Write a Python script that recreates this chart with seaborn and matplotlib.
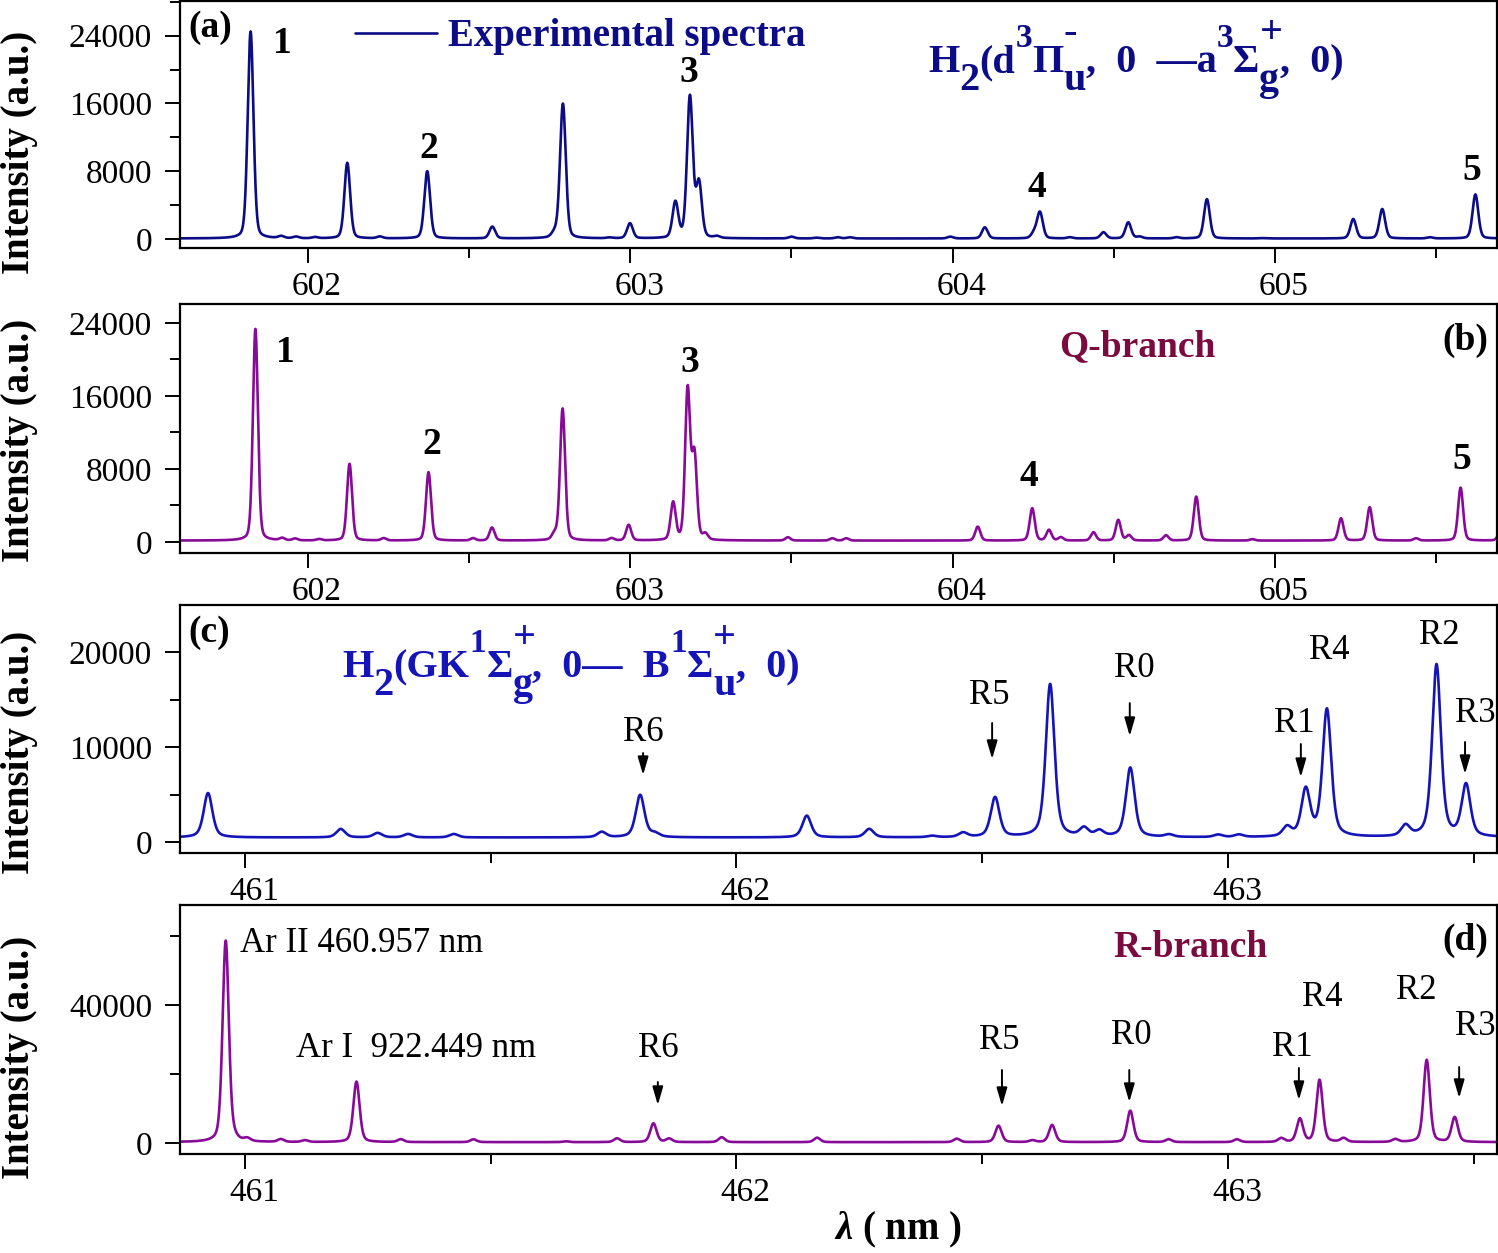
import numpy as np
import matplotlib
matplotlib.use("Agg")
import matplotlib.pyplot as plt
import matplotlib.transforms as mtransforms
from matplotlib.ticker import MultipleLocator
import seaborn as sns

# ---- peak lists (centre in nm, peak intensity in a.u.) ----
# (a) experimental spectrum, 601.6 - 605.7 nm
a_center = [601.822, 601.917, 601.963, 602.022, 602.122, 602.223, 602.370, 602.572,
            602.765, 602.791, 602.935, 602.999, 603.140, 603.185, 603.213, 603.269,
            603.500, 603.578, 603.644, 603.681, 603.993, 604.100, 604.253, 604.271,
            604.364, 604.468, 604.545, 604.580, 604.695, 604.789, 604.958, 605.243,
            605.333, 605.481, 605.622]
a_height = [24500, 300, 250, 200, 8980, 270, 8000, 1450,
            600, 15960, 150, 1840, 4270, 16740, 6500, 270,
            270, 150, 200, 200, 270, 1370, 690, 3140,
            200, 790, 1960, 270, 200, 4700, 100, 2350,
            3530, 200, 5260]
a_base = 60

# (b) Q-branch
b_center = [601.837, 601.920, 601.960, 602.034, 602.129, 602.235, 602.374, 602.512,
            602.571, 602.765, 602.790, 602.942, 602.995, 603.133, 603.178, 603.199,
            603.233, 603.489, 603.627, 603.670, 604.078, 604.247, 604.299, 604.336,
            604.437, 604.514, 604.547, 604.662, 604.756, 604.930, 605.205, 605.294,
            605.438, 605.576, 605.700]
b_height = [23340, 400, 350, 300, 8550, 400, 7640, 400,
            1570, 800, 14610, 400, 1860, 4240, 16580, 9300,
            770, 510, 400, 400, 1680, 3690, 1310, 510,
            1060, 2410, 730, 730, 4970, 300, 2590, 3800,
            400, 5950, 1200]
b_base = 150

# (c) H2 GK-B band
c_center = [460.925, 461.195, 461.270, 461.332, 461.425, 461.726, 461.804, 461.834,
            462.143, 462.270, 462.398, 462.461, 462.526, 462.638, 462.707, 462.738,
            462.801, 462.880, 462.980, 463.022, 463.120, 463.158, 463.201, 463.361,
            463.424, 463.484]
c_height = [5160, 1370, 950, 840, 840, 1050, 4950, 840,
            2770, 1370, 630, 950, 4670, 16600, 1370, 1100,
            7790, 740, 740, 740, 1470, 5400, 13900, 1610,
            18630, 5930]
c_base = 480

# (d) R-branch
d_center = [460.961, 460.978, 461.005, 461.073, 461.122, 461.227, 461.317, 461.465,
            461.653, 461.757, 461.831, 461.863, 461.970, 462.164, 462.448, 462.533,
            462.602, 462.642, 462.801, 462.879, 463.018, 463.108, 463.146, 463.186,
            463.235, 463.340, 463.404, 463.461]
d_height = [58640, 1000, 1060, 1060, 770, 17780, 1060, 1060,
            480, 1350, 5700, 1250, 1670, 1540, 1250, 5020,
            770, 5220, 9380, 1060, 1060, 1350, 6960, 18260,
            1350, 1060, 24060, 7440]
d_base = 250

# ---- labels ----
num_labels = ['1', '2', '3', '4', '5']
a_num_x = [601.920, 602.374, 603.181, 604.262, 605.612]
a_num_y = [23060, 10710, 19650, 6120, 8120]
b_num_x = [601.930, 602.383, 603.184, 604.237, 605.581]
b_num_y = [20710, 10630, 19620, 7120, 8990]

r_labels = ['R6', 'R5', 'R0', 'R1', 'R4', 'R2', 'R3']
nan = np.nan
c_lab_x = [461.810, 462.514, 462.809, 463.134, 463.205, 463.429, 463.503]
c_lab_y = [11580, 15470, 18320, 12530, 20210, 21790, 13580]
c_arr_x = [461.810, 462.520, 462.800, 463.148, nan, nan, 463.482]
c_arr_top = [9370, 12530, 14630, 10320, nan, nan, 10530]
c_arr_tip = [7050, 8740, 11160, 6840, nan, nan, 7160]

d_lab_x = [461.840, 462.534, 462.803, 463.130, 463.191, 463.383, 463.503]
d_lab_y = [27540, 29860, 31300, 27830, 42320, 44350, 33910]
d_arr_x = [461.840, 462.540, 462.799, 463.144, nan, nan, 463.470]
d_arr_top = [17680, 21160, 21160, 21740, nan, nan, 22030]
d_arr_tip = [11010, 10720, 11880, 12460, nan, nan, 13040]

ar_labels = ['Ar II 460.957 nm', 'Ar I  922.449 nm']
ar_x = [460.990, 461.104]
ar_y = [57970, 27540]

# band titles as (text, size, rise in pt, stacked over previous script)
title_a = [('H', 29, 0, False), ('2', 29, -13, False), ('(d', 29, 0, False),
           ('3', 24, 18, False), ('Π', 29, 0, False), ('u', 29, -13, False),
           ('-', 29, 21, True), (',  0  —a', 29, 0, False), ('3', 24, 18, False),
           ('Σ', 29, 0, False), ('g', 29, -13, False), ('+', 29, 21, True),
           (',  0)', 29, 0, False)]
title_c = [('H', 29, 0, False), ('2', 29, -13, False), ('(GK', 29, 0, False),
           ('1', 24, 18, False), ('Σ', 29, 0, False), ('g', 29, -13, False),
           ('+', 29, 21, True), (',  0—  B', 29, 0, False), ('1', 24, 18, False),
           ('Σ', 29, 0, False), ('u', 29, -13, False), ('+', 29, 21, True),
           (',  0)', 29, 0, False)]

col_a = '#0c0c87'
col_c = '#1414b8'
col_bd = '#880a98'
col_branch = '#7b0b3f'

sns.set_style('ticks')
plt.rcParams['font.family'] = ['Liberation Serif', 'DejaVu Serif']
plt.rcParams['mathtext.fontset'] = 'custom'
plt.rcParams['mathtext.rm'] = 'Liberation Serif:bold'
plt.rcParams['mathtext.it'] = 'Liberation Serif:italic:bold'
plt.rcParams['mathtext.bf'] = 'Liberation Serif:bold'
plt.rcParams['mathtext.default'] = 'rm'
plt.rcParams['text.color'] = 'black'
plt.rcParams['axes.labelcolor'] = 'black'
plt.rcParams['xtick.color'] = 'black'
plt.rcParams['ytick.color'] = 'black'


def spectrum(grid, centers, heights, base, hw, eta):
    # sum of line profiles placed at the read peak positions
    y = np.full_like(grid, float(base))
    for c, h in zip(centers, heights):
        d = (grid - c) / hw
        y += (h - base) * (eta / (1 + d ** 2) + (1 - eta) * np.exp(-np.log(2) * d ** 2))
    return y


def rich_title(ax, x, y, pieces, color):
    s, size, rise, _ = pieces[0]
    first = ax.text(x, y, s, transform=ax.transAxes, ha='left', va='baseline',
                    fontsize=size, fontweight='bold', color=color)
    anchor, prev_anchor = first, first
    for s, size, rise, stacked in pieces[1:]:
        ref = prev_anchor if stacked else anchor
        t = ax.annotate(s, xy=(1, y), xycoords=(ref, ax.transAxes), xytext=(0, rise),
                        textcoords='offset points', ha='left', va='baseline',
                        fontsize=size, fontweight='bold', color=color)
        if not stacked:
            prev_anchor, anchor = anchor, t


fig = plt.figure(figsize=(14.98, 12.53), dpi=100)
L, W = 180 / 1498, 1317 / 1498
ax_a = fig.add_axes([L, 0.8021, W, 0.1971])
ax_b = fig.add_axes([L, 0.5587, W, 0.1987])
ax_c = fig.add_axes([L, 0.3192, W, 0.1979])
ax_d = fig.add_axes([L, 0.0790, W, 0.1987])

g1 = np.linspace(601.55, 605.75, 9000)
g2 = np.linspace(460.82, 463.60, 9000)

sns.lineplot(x=g1, y=spectrum(g1, a_center, a_height, a_base, 0.0105, 0.25), ax=ax_a,
             color=col_a, lw=1.9, sort=False, estimator=None, label='Experimental spectra')
sns.lineplot(x=g1, y=spectrum(g1, b_center, b_height, b_base, 0.0092, 0.25), ax=ax_b,
             color=col_bd, lw=1.9, sort=False, estimator=None, legend=False)
sns.lineplot(x=g2, y=spectrum(g2, c_center, c_height, c_base, 0.0105, 0.5), ax=ax_c,
             color=col_c, lw=1.9, sort=False, estimator=None, legend=False)
sns.lineplot(x=g2, y=spectrum(g2, d_center, d_height, d_base, 0.0075, 0.35), ax=ax_d,
             color=col_bd, lw=1.9, sort=False, estimator=None, legend=False)

ax_a.set_xlim(601.603, 605.689)
ax_b.set_xlim(601.603, 605.689)
ax_c.set_xlim(460.868, 463.547)
ax_d.set_xlim(460.868, 463.547)
ax_a.set_ylim(-1060, 28100)
ax_b.set_ylim(-1205, 26080)
ax_c.set_ylim(-1158, 24950)
ax_d.set_ylim(-3188, 68990)

ax_a.yaxis.set_major_locator(MultipleLocator(8000))
ax_a.yaxis.set_minor_locator(MultipleLocator(4000))
ax_b.yaxis.set_major_locator(MultipleLocator(8000))
ax_b.yaxis.set_minor_locator(MultipleLocator(4000))
ax_c.yaxis.set_major_locator(MultipleLocator(10000))
ax_c.yaxis.set_minor_locator(MultipleLocator(5000))
ax_d.yaxis.set_major_locator(MultipleLocator(40000))
ax_d.yaxis.set_minor_locator(MultipleLocator(20000))

shift = mtransforms.ScaledTranslation(9 / 100, 0, fig.dpi_scale_trans)
for ax in [ax_a, ax_b, ax_c, ax_d]:
    ax.xaxis.set_major_locator(MultipleLocator(1))
    ax.xaxis.set_minor_locator(MultipleLocator(0.5))
    ax.set_xlabel('')
    ax.set_ylabel('')
    for sp in ax.spines.values():
        sp.set_visible(True)
        sp.set_linewidth(1.6)
        sp.set_color('black')
    ax.tick_params(axis='both', which='major', direction='out', length=11, width=1.4,
                   labelsize=24, colors='black')
    ax.tick_params(axis='both', which='minor', direction='out', length=7, width=1.4,
                   colors='black')
    ax.tick_params(axis='x', pad=6)
    ax.tick_params(axis='y', pad=9)
    for lab in ax.get_xticklabels():
        lab.set_transform(lab.get_transform() + shift)

# y labels
for yc in [152, 440, 752, 1057]:
    fig.text(20 / 1498, 1 - yc / 1253, 'Intensity (a.u.)', rotation=90, ha='center',
             va='center', fontsize=28, fontweight='bold')
fig.text(898 / 1498, 1 - 1230 / 1253, r'$\mathit{\lambda}$ ( nm )', ha='center', va='center',
         fontsize=28, fontweight='bold')

# panel letters
ax_a.text(0.006, 0.891, '(a)', transform=ax_a.transAxes, ha='left', va='center',
          fontsize=27, fontweight='bold')
ax_c.text(0.006, 0.891, '(c)', transform=ax_c.transAxes, ha='left', va='center',
          fontsize=27, fontweight='bold')
ax_b.text(0.993, 0.855, '(b)', transform=ax_b.transAxes, ha='right', va='center',
          fontsize=27, fontweight='bold')
ax_d.text(0.993, 0.859, '(d)', transform=ax_d.transAxes, ha='right', va='center',
          fontsize=27, fontweight='bold')

# legend in (a)
ax_a.legend(loc='upper left', bbox_to_anchor=(0.1329, 0.93), frameon=False,
            handlelength=2.1, handletextpad=0.3, borderpad=0, borderaxespad=0,
            prop={'weight': 'bold', 'size': 28}, labelcolor=col_a)

# band titles
rich_title(ax_a, (928 - 180) / 1317, 0.7126, title_a, col_a)
rich_title(ax_c, (342 - 180) / 1317, 0.7097, title_c, col_c)
ax_b.text(0.7267, 0.827, 'Q-branch', transform=ax_b.transAxes, ha='center', va='center',
          fontsize=27, fontweight='bold', color=col_branch)
ax_d.text(0.7669, 0.831, 'R-branch', transform=ax_d.transAxes, ha='center', va='center',
          fontsize=27, fontweight='bold', color=col_branch)

# peak numbers
for s, x, y in zip(num_labels, a_num_x, a_num_y):
    ax_a.text(x, y, s, ha='center', va='center', fontsize=27, fontweight='bold')
for s, x, y in zip(num_labels, b_num_x, b_num_y):
    ax_b.text(x, y, s, ha='center', va='center', fontsize=27, fontweight='bold')

# R-line labels and arrows
arrow_kw = dict(arrowstyle='-|>,head_length=0.55,head_width=0.16', color='black',
                lw=1.4, mutation_scale=20, shrinkA=0, shrinkB=0)
for ax, lx, ly, axx, at, ab in [(ax_c, c_lab_x, c_lab_y, c_arr_x, c_arr_top, c_arr_tip),
                                (ax_d, d_lab_x, d_lab_y, d_arr_x, d_arr_top, d_arr_tip)]:
    for s, x, y, xa, y0, y1 in zip(r_labels, lx, ly, axx, at, ab):
        ax.text(x, y, s, ha='center', va='center', fontsize=25)
        if not np.isnan(xa):
            ax.annotate('', xy=(xa, y1), xytext=(xa, y0), arrowprops=arrow_kw)

for s, x, y in zip(ar_labels, ar_x, ar_y):
    ax_d.text(x, y, s, ha='left', va='center', fontsize=25)

fig.savefig('out.png', dpi=100)
